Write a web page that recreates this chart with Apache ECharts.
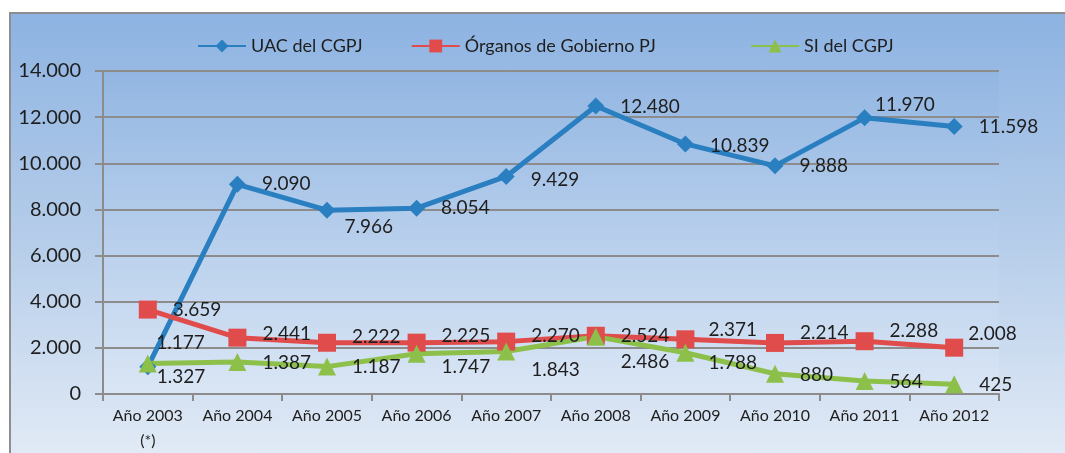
<!DOCTYPE html>
<html>
<head>
<meta charset="utf-8">
<script src="https://cdn.jsdelivr.net/npm/echarts@6/dist/echarts.min.js"></script>
<style>
  html, body { margin: 0; padding: 0; background: #fff; }
  #frame {
    position: absolute; left: 9px; top: 12px; width: 1056px; height: 441px;
    box-sizing: border-box;
    border-top: 2px solid #8e8e8e; border-left: 2px solid #8e8e8e;
    background: linear-gradient(to bottom, #8db3e2 0%, #b4cce9 50%, #e1eaf6 100%);
  }
  #chart { position: absolute; left: 0; top: 0; width: 1065px; height: 453px; }
</style>
</head>
<body>
<div id="frame"></div>
<div id="chart"></div>
<script>
const categories = ['Año 2003\n(*)', 'Año 2004', 'Año 2005', 'Año 2006', 'Año 2007',
  'Año 2008', 'Año 2009', 'Año 2010', 'Año 2011', 'Año 2012'];
const uac = [1177, 9090, 7966, 8054, 9429, 12480, 10839, 9888, 11970, 11598];
const organos = [3659, 2441, 2222, 2225, 2270, 2524, 2371, 2214, 2288, 2008];
const si = [1327, 1387, 1187, 1747, 1843, 2486, 1788, 880, 564, 425];

// nudges for the data labels, the way they sit in the original
const uacShift = [[-16, -24], [0, 0], [-7, 17], [0, 0], [0, 3], [0, 1], [0, 2], [0, 0], [-14, -13], [0, 0]];
const orgShift = [[0, 0], [0, -4], [0, -6], [0, -7], [0, -6], [0, 0], [-2, -9], [0, -10], [0, -10], [-11, -14]];
const siShift = [[-16, 13], [0, 1], [0, 0], [0, 13], [0, 18], [0, 25], [-2, 10], [0, 1], [0, 1], [0, 1]];

const fmt = v => String(v).replace(/\B(?=(\d{3})+(?!\d))/g, '.');
const FONT = 'Lato, "Open Sans", sans-serif';

function withLabels(values, shifts) {
  return values.map((v, i) => ({ value: v, label: { offset: shifts[i] } }));
}

function lineSeries(name, values, shifts, color, symbol, size) {
  return {
    name: name,
    type: 'line',
    data: withLabels(values, shifts),
    symbol: symbol,
    symbolSize: size,
    showAllSymbol: true,
    lineStyle: { color: color, width: 5 },
    itemStyle: { color: color },
    label: {
      show: true,
      position: 'right',
      distance: 16,
      color: '#1e1e1e',
      fontFamily: FONT,
      fontSize: 19,
      formatter: p => fmt(p.value)
    },
    emphasis: { disabled: true },
    animation: false
  };
}

function legendAt(left, names) {
  return {
    left: left,
    top: 32,
    itemWidth: 48,
    itemHeight: 16,
    itemGap: 48,
    textStyle: { fontFamily: FONT, fontSize: 18, color: '#1e1e1e' },
    data: names
  };
}

const chart = echarts.init(document.getElementById('chart'));
chart.setOption({
  backgroundColor: 'transparent',
  textStyle: { fontFamily: FONT },
  legend: [
    legendAt(192, ['UAC del CGPJ', 'Órganos de Gobierno PJ']),
    legendAt(745, ['SI del CGPJ'])
  ],
  grid: {
    left: 103, right: 66, top: 71, bottom: 57,
    show: true,
    borderWidth: 0,
    backgroundColor: new echarts.graphic.LinearGradient(0, 0, 0, 1, [
      { offset: 0, color: '#92b6e2' },
      { offset: 1, color: '#dae6f5' }
    ])
  },
  xAxis: {
    type: 'category',
    data: categories,
    boundaryGap: true,
    axisLine: { lineStyle: { color: '#8c8c8c', width: 2 } },
    axisTick: { show: true, interval: 0, length: 7, lineStyle: { color: '#8c8c8c', width: 2 } },
    axisLabel: {
      interval: 0, margin: 9, fontSize: 16, lineHeight: 25,
      color: '#1e1e1e', fontFamily: FONT
    }
  },
  yAxis: {
    type: 'value',
    min: 0, max: 14000, interval: 2000,
    axisLine: { show: true, lineStyle: { color: '#8c8c8c', width: 2 } },
    axisTick: { show: true, length: 8, lineStyle: { color: '#8c8c8c', width: 2 } },
    splitLine: { lineStyle: { color: '#8c8c8c', width: 2 } },
    axisLabel: {
      margin: 22, fontSize: 20, color: '#1e1e1e', fontFamily: FONT,
      formatter: fmt
    }
  },
  series: [
    lineSeries('UAC del CGPJ', uac, uacShift, '#2a7fc1', 'diamond', 17),
    lineSeries('Órganos de Gobierno PJ', organos, orgShift, '#e04b4b', 'rect', 18),
    lineSeries('SI del CGPJ', si, siShift, '#8dc04a', 'triangle', 18)
  ]
});
</script>
</body>
</html>
